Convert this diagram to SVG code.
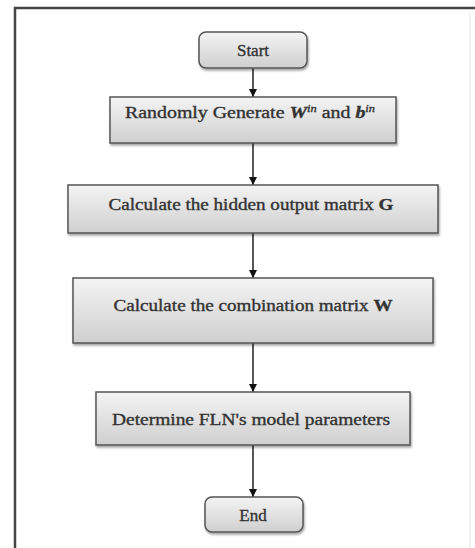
<svg xmlns="http://www.w3.org/2000/svg" width="475" height="548" viewBox="0 0 475 548">
<style>
.box{fill:url(#g);stroke:#555;stroke-width:1.5;filter:url(#sh)}
.t{font-family:"Liberation Serif","DejaVu Serif",serif;font-size:16px;fill:#333;stroke:#333;stroke-width:0.35;text-anchor:middle}
.c{stroke:#111;stroke-width:1.4;fill:none;marker-end:url(#ah)}
</style>
<defs>
<linearGradient id="g" x1="0" y1="0" x2="0" y2="1">
<stop offset="0" stop-color="#f4f4f4"/>
<stop offset="1" stop-color="#cfcfcf"/>
</linearGradient>
<filter id="sh" x="-10%" y="-20%" width="120%" height="150%">
<feDropShadow dx="1" dy="2" stdDeviation="1.2" flood-color="#000" flood-opacity="0.35"/>
</filter>
<marker id="ah" viewBox="0 0 10 10" refX="10" refY="5" markerWidth="8" markerHeight="8" markerUnits="userSpaceOnUse" orient="auto">
<path d="M0,0 L10,5 L0,10 z" fill="#111"/>
</marker>
</defs>
<rect width="475" height="548" fill="#fff"/>
<path d="M15,552 V8 H475" fill="none" stroke="#444" stroke-width="2.5"/>
<line x1="470" y1="12" x2="470" y2="548" stroke="#e6e6e6" stroke-width="1"/>
<g id="connectors">
<line class="c" x1="253" y1="68" x2="253" y2="97"/>
<line class="c" x1="253" y1="143" x2="253" y2="185"/>
<line class="c" x1="253" y1="233" x2="253" y2="278"/>
<line class="c" x1="253" y1="343" x2="253" y2="392"/>
<line class="c" x1="253" y1="445" x2="253" y2="497"/>
</g>
<g id="start">
<rect class="box" x="199" y="32" width="108" height="36" rx="7"/>
<text class="t" x="253" y="56" style="font-size:17px">Start</text>
</g>
<g id="generate">
<rect class="box" x="110" y="97" width="286" height="46"/>
<text class="t" x="250" y="118" textLength="250" lengthAdjust="spacingAndGlyphs">Randomly Generate <tspan font-style="italic" font-weight="bold">W</tspan><tspan font-style="italic" font-size="10" dy="-6">in</tspan><tspan dy="6"> and </tspan><tspan font-style="italic" font-weight="bold">b</tspan><tspan font-style="italic" font-size="10" dy="-6">in</tspan></text>
</g>
<g id="hidden">
<rect class="box" x="68" y="185" width="370" height="48"/>
<text class="t" x="251" y="210" textLength="285" lengthAdjust="spacingAndGlyphs">Calculate the hidden output matrix <tspan font-weight="bold">G</tspan></text>
</g>
<g id="combination">
<rect class="box" x="73" y="278" width="360" height="65"/>
<text class="t" x="253" y="311" textLength="279" lengthAdjust="spacingAndGlyphs">Calculate the combination matrix <tspan font-weight="bold">W</tspan></text>
</g>
<g id="determine">
<rect class="box" x="96" y="392" width="314" height="53"/>
<text class="t" x="251" y="425" textLength="278" lengthAdjust="spacingAndGlyphs">Determine FLN's model parameters</text>
</g>
<g id="end">
<rect class="box" x="205" y="497" width="98" height="35" rx="7"/>
<text class="t" x="253" y="521" style="font-size:17px">End</text>
</g>
</svg>
